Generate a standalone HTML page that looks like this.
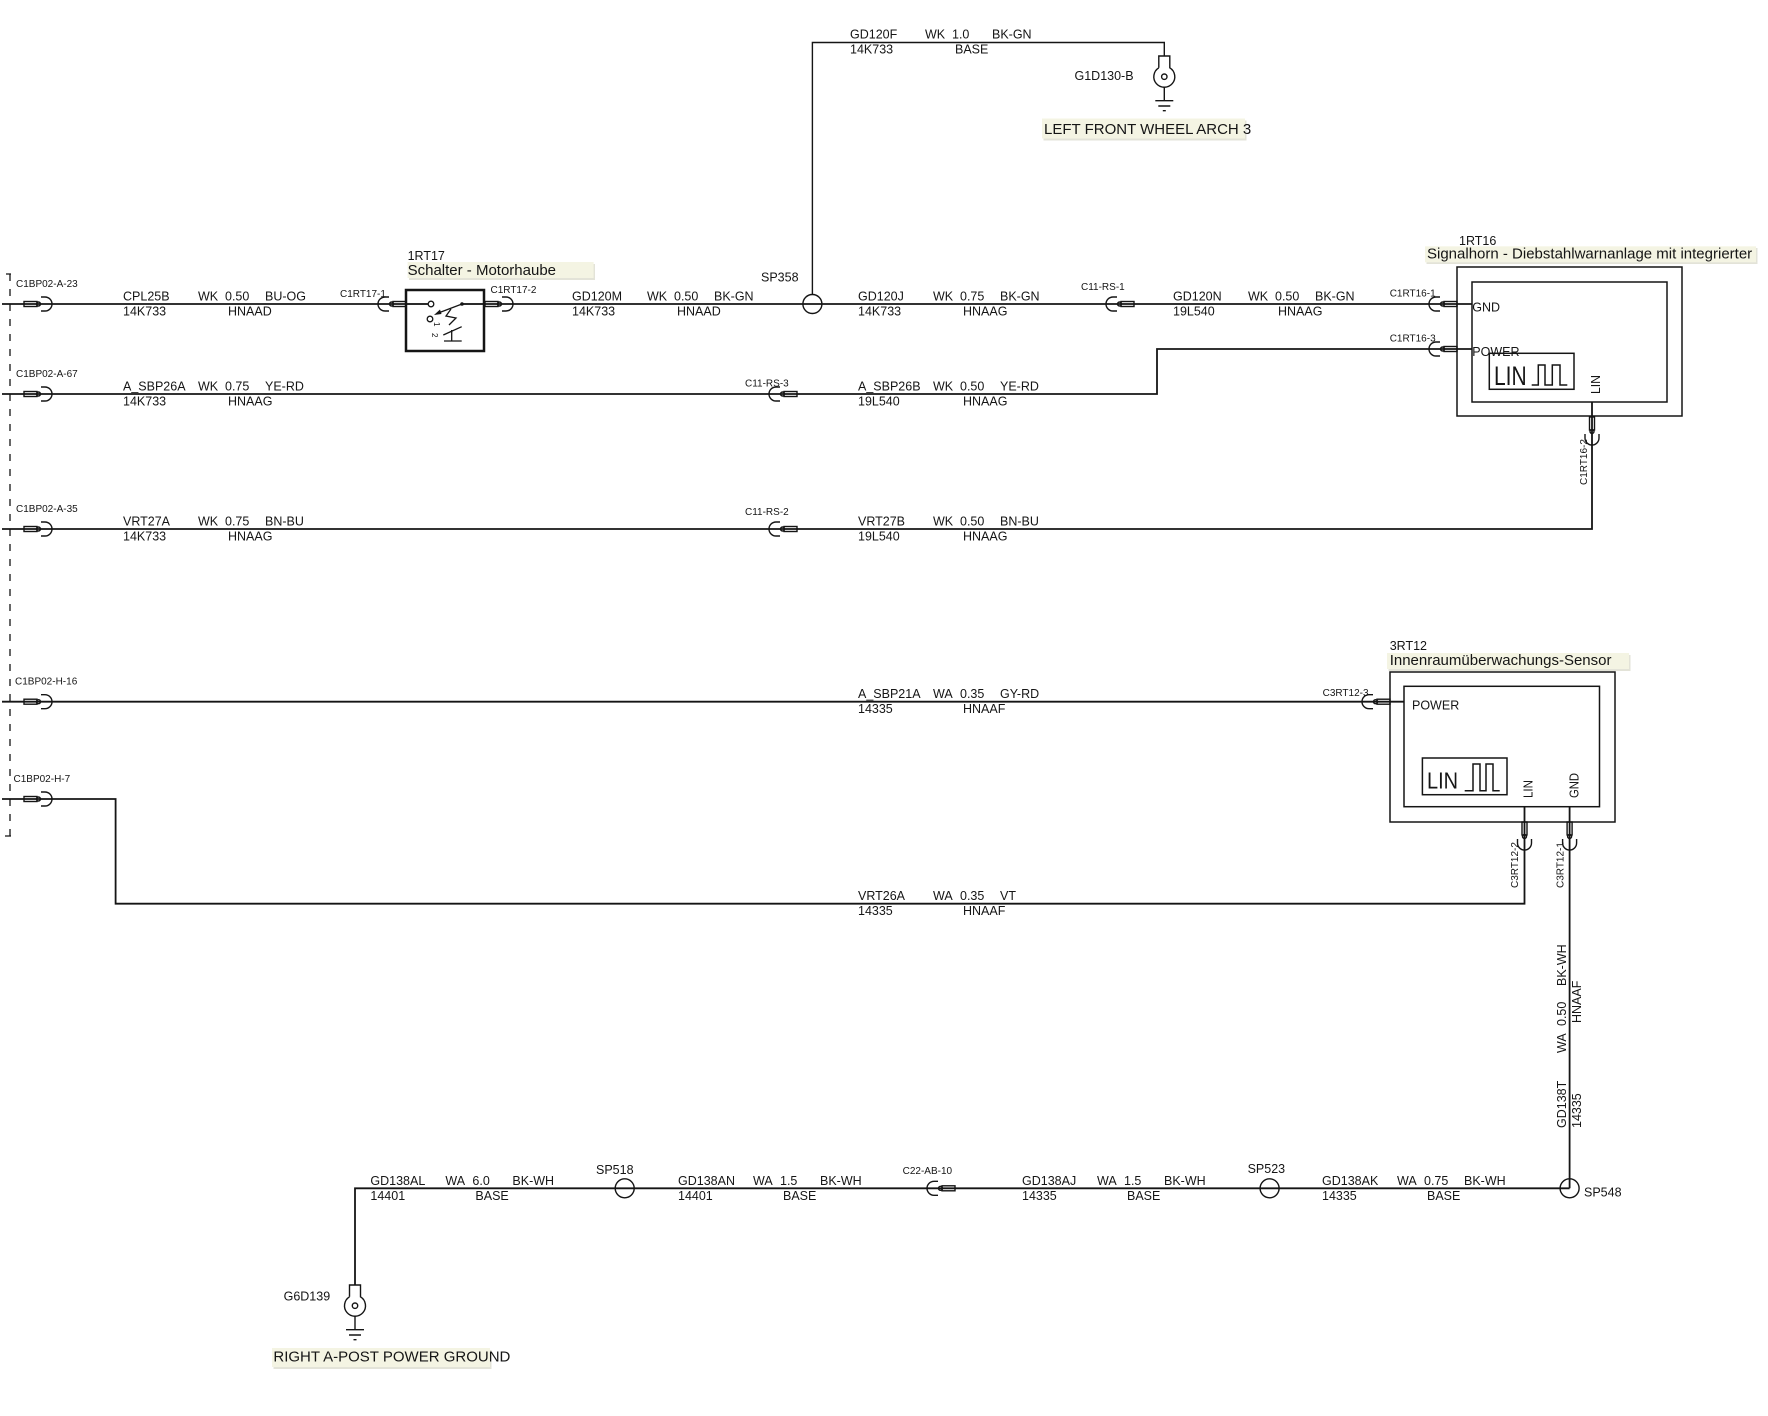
<!DOCTYPE html>
<html><head><meta charset="utf-8"><style>
html,body{margin:0;padding:0;background:#fff;}
svg{display:block;}
text{font-family:"Liberation Sans",Arial,sans-serif;fill:#151515;}
.w{font-size:12.5px;}
.s{font-size:10px;}
.t{font-size:15px;}
</style></head><body>
<svg width="1768" height="1416" viewBox="0 0 1768 1416" xmlns="http://www.w3.org/2000/svg">
<defs>
<g id="cn" fill="none" stroke="#151515" stroke-width="1.4">
<rect x="0" y="-2.5" width="13" height="5"/>
<circle cx="14.5" cy="0" r="2"/>
<path d="M17,-7 H21 A7,7 0 0 1 21,7 H17"/>
</g>
<g id="gnd" fill="none" stroke="#151515" stroke-width="1.4">
<path d="M-5.5,11.8 V0 H5.5 V11.8 A10.5,10.5 0 1 1 -5.5,11.8"/>
<circle cx="0" cy="20.7" r="2.7"/>
<path d="M0,31.2 V44.7 M-9,44.7 H9 M-6,50 H6 M-1.5,54.7 H1.5"/>
</g>
</defs>
<rect width="1768" height="1416" fill="#fff"/>

<!-- dashed harness line -->
<path d="M10,274 V836" stroke="#151515" stroke-width="1.3" stroke-dasharray="7 8" fill="none"/>
<path d="M6,274 H11 M5,836 H11" stroke="#151515" stroke-width="1.3"/>

<!-- wires -->
<g fill="none" stroke="#151515" stroke-width="1.8">
<path d="M2,304 H428"/>
<path d="M462,304 H1472"/>
<path d="M2,394 H1157 V349 H1472"/>
<path d="M2,529 H1592 V401.7"/>
<path d="M2,701.7 H1404"/>
<path d="M2,799 H115.6 V903.7 H1524.5 V806.7"/>
<path d="M1569.6,806.7 V1188.3"/>
<path d="M355,1285 V1188.3 H1569.6"/>
</g>
<path d="M812.4,294.5 V42.5 H1164.3 V56" fill="none" stroke="#151515" stroke-width="1.4"/>

<!-- splices -->
<g fill="none" stroke="#151515" stroke-width="1.4">
<circle cx="812.4" cy="304" r="9.5"/>
<circle cx="624.7" cy="1188.3" r="9.5"/>
<circle cx="1269.6" cy="1188.3" r="9.5"/>
<circle cx="1569.6" cy="1188.3" r="9.5"/>
</g>

<!-- grounds -->
<use href="#gnd" transform="translate(1164.3,56)"/>
<use href="#gnd" transform="translate(355,1285)"/>

<!-- connectors -->
<use href="#cn" transform="translate(24,304)"/>
<use href="#cn" transform="translate(24,394)"/>
<use href="#cn" transform="translate(24,529)"/>
<use href="#cn" transform="translate(24,701.7)"/>
<use href="#cn" transform="translate(24,799)"/>
<use href="#cn" transform="translate(406,304) scale(-1,1)"/>
<use href="#cn" transform="translate(485,304)"/>
<use href="#cn" transform="translate(797,394) scale(-1,1)"/>
<use href="#cn" transform="translate(1134,304) scale(-1,1)"/>
<use href="#cn" transform="translate(797,529) scale(-1,1)"/>
<use href="#cn" transform="translate(1457,304) scale(-1,1)"/>
<use href="#cn" transform="translate(1457,349) scale(-1,1)"/>
<use href="#cn" transform="translate(1390,701.7) scale(-1,1)"/>
<use href="#cn" transform="translate(955,1188.3) scale(-1,1)"/>
<use href="#cn" transform="translate(1592,417) rotate(90)"/>
<use href="#cn" transform="translate(1524.5,822) rotate(90)"/>
<use href="#cn" transform="translate(1569.6,822) rotate(90)"/>

<!-- switch 1RT17 -->
<rect x="406" y="290" width="78" height="61" fill="none" stroke="#151515" stroke-width="2.5"/>
<g fill="none" stroke="#151515" stroke-width="1.3">
<path d="M406,304 H428.2"/>
<circle cx="431" cy="304" r="2.8" fill="#fff"/>
<path d="M462,304 H484"/>
<path d="M462,304 L437,313.5"/>
<circle cx="430" cy="319" r="2.8"/>
<path d="M451,309 L446,316 L456,318 L449,325"/>
<path d="M443.3,335 L461.7,326.7"/>
<path d="M444,341 H461.7 M451.7,330 V341"/>
</g>
<circle cx="462" cy="304" r="1.8" fill="#151515"/>
<path d="M434,315 L440,309.5 L441.5,314 Z" fill="#151515"/>
<text x="0" y="0" font-size="8" transform="translate(434,322) rotate(90)">1</text>
<text x="0" y="0" font-size="8" transform="translate(432,333) rotate(90)">2</text>

<!-- 1RT16 -->
<g fill="none" stroke="#151515" stroke-width="1.5">
<rect x="1457" y="267" width="225" height="149"/>
<rect x="1472" y="282" width="195" height="120"/>
<rect x="1489.3" y="353.3" width="84.7" height="36"/>
<path d="M1531.7,385 H1538.3 V365 H1545 V385 H1552.3 V365 H1560 V385 H1567.3"/>
</g>
<text x="1494" y="385" font-size="27" textLength="32.7" lengthAdjust="spacingAndGlyphs">LIN</text>
<text class="w" x="1472.3" y="311.7">GND</text>
<text class="w" x="1472.3" y="356">POWER</text>
<text font-size="13" textLength="19" lengthAdjust="spacingAndGlyphs" transform="translate(1600,394) rotate(-90)">LIN</text>

<!-- 3RT12 -->
<g fill="none" stroke="#151515" stroke-width="1.5">
<rect x="1390" y="672" width="225" height="150"/>
<rect x="1404" y="686.3" width="195.5" height="120.4"/>
<rect x="1422.4" y="758" width="84.6" height="36.7"/>
<path d="M1464.7,790.7 H1473 V764 H1480 V790.7 H1486 V764 H1493 V790.7 H1499.7"/>
</g>
<text x="1427" y="788.3" font-size="23" textLength="31" lengthAdjust="spacingAndGlyphs">LIN</text>
<text class="w" x="1412" y="709.3">POWER</text>
<text font-size="13" textLength="18" lengthAdjust="spacingAndGlyphs" transform="translate(1532.7,798) rotate(-90)">LIN</text>
<text font-size="13" textLength="25" lengthAdjust="spacingAndGlyphs" transform="translate(1578.6,798) rotate(-90)">GND</text>

<!-- highlights -->
<rect x="409" y="264" width="186" height="16" fill="#e3e3d8"/>
<rect x="407.6" y="262" width="186" height="16" fill="#f4f4e3"/>
<rect x="1426.5" y="248" width="331" height="16" fill="#e3e3d8"/>
<rect x="1425" y="246.3" width="331" height="16" fill="#f4f4e3"/>
<rect x="1388.5" y="655" width="242" height="16" fill="#e3e3d8"/>
<rect x="1387" y="653" width="242" height="16" fill="#f4f4e3"/>
<rect x="1043.5" y="120.5" width="203" height="20" fill="#e3e3d8"/>
<rect x="1042" y="118.5" width="203" height="20" fill="#f4f4e3"/>
<rect x="273.5" y="1350" width="218" height="19" fill="#e3e3d8"/>
<rect x="272" y="1348" width="218" height="19" fill="#f4f4e3"/>

<!-- titles -->
<text class="w" x="407.6" y="260">1RT17</text>
<text class="t" x="407.6" y="275">Schalter - Motorhaube</text>
<text class="w" x="1459" y="245">1RT16</text>
<text class="t" x="1427" y="258.5">Signalhorn - Diebstahlwarnanlage mit integrierter</text>
<text class="w" x="1389.7" y="650">3RT12</text>
<text class="t" x="1389.7" y="665">Innenraumüberwachungs-Sensor</text>
<text class="t" x="1044" y="134">LEFT FRONT WHEEL ARCH 3</text>
<text class="t" x="273.4" y="1361.5">RIGHT A-POST POWER GROUND</text>
<text class="w" x="1074.5" y="80">G1D130-B</text>
<text class="w" x="283.6" y="1300.7">G6D139</text>

<!-- splice labels -->
<text class="w" x="761" y="281.7">SP358</text>
<text class="w" x="596" y="1174">SP518</text>
<text class="w" x="1247.6" y="1173">SP523</text>
<text class="w" x="1584" y="1196.7">SP548</text>

<!-- connector labels -->
<text class="s" x="16" y="287">C1BP02-A-23</text>
<text class="s" x="16" y="377">C1BP02-A-67</text>
<text class="s" x="16" y="512">C1BP02-A-35</text>
<text class="s" x="15" y="684.5">C1BP02-H-16</text>
<text class="s" x="13.5" y="782">C1BP02-H-7</text>
<text class="s" x="340" y="297">C1RT17-1</text>
<text class="s" x="490.5" y="293">C1RT17-2</text>
<text class="s" x="1081" y="290">C11-RS-1</text>
<text class="s" x="1389.7" y="296.7">C1RT16-1</text>
<text class="s" x="1389.7" y="341.7">C1RT16-3</text>
<text class="s" x="745" y="386.7">C11-RS-3</text>
<text class="s" x="745" y="515">C11-RS-2</text>
<text class="s" x="1322.6" y="696">C3RT12-3</text>
<text class="s" x="902.6" y="1174">C22-AB-10</text>
<text class="s" transform="translate(1587,485) rotate(-90)">C1RT16-2</text>
<text class="s" transform="translate(1518,888) rotate(-90)">C3RT12-2</text>
<text class="s" transform="translate(1563.5,888) rotate(-90)">C3RT12-1</text>

<!-- wire labels -->
<g class="w">
<text class="w" x="123" y="300.5">CPL25B</text><text class="w" x="198" y="300.5">WK</text><text class="w" x="225" y="300.5">0.50</text><text class="w" x="265" y="300.5">BU-OG</text>
<text class="w" x="123" y="315.5">14K733</text><text class="w" x="228" y="315.5">HNAAD</text>

<text class="w" x="572" y="300.5">GD120M</text><text class="w" x="647" y="300.5">WK</text><text class="w" x="674" y="300.5">0.50</text><text class="w" x="714" y="300.5">BK-GN</text>
<text class="w" x="572" y="315.5">14K733</text><text class="w" x="677" y="315.5">HNAAD</text>

<text class="w" x="858" y="300.5">GD120J</text><text class="w" x="933" y="300.5">WK</text><text class="w" x="960" y="300.5">0.75</text><text class="w" x="1000" y="300.5">BK-GN</text>
<text class="w" x="858" y="315.5">14K733</text><text class="w" x="963" y="315.5">HNAAG</text>

<text class="w" x="1173" y="300.5">GD120N</text><text class="w" x="1248" y="300.5">WK</text><text class="w" x="1275" y="300.5">0.50</text><text class="w" x="1315" y="300.5">BK-GN</text>
<text class="w" x="1173" y="315.5">19L540</text><text class="w" x="1278" y="315.5">HNAAG</text>

<text class="w" x="850" y="38.5">GD120F</text><text class="w" x="925" y="38.5">WK</text><text class="w" x="952" y="38.5">1.0</text><text class="w" x="992" y="38.5">BK-GN</text>
<text class="w" x="850" y="53.5">14K733</text><text class="w" x="955" y="53.5">BASE</text>

<text class="w" x="123" y="390.5">A_SBP26A</text><text class="w" x="198" y="390.5">WK</text><text class="w" x="225" y="390.5">0.75</text><text class="w" x="265" y="390.5">YE-RD</text>
<text class="w" x="123" y="405.5">14K733</text><text class="w" x="228" y="405.5">HNAAG</text>

<text class="w" x="858" y="390.5">A_SBP26B</text><text class="w" x="933" y="390.5">WK</text><text class="w" x="960" y="390.5">0.50</text><text class="w" x="1000" y="390.5">YE-RD</text>
<text class="w" x="858" y="405.5">19L540</text><text class="w" x="963" y="405.5">HNAAG</text>

<text class="w" x="123" y="525.5">VRT27A</text><text class="w" x="198" y="525.5">WK</text><text class="w" x="225" y="525.5">0.75</text><text class="w" x="265" y="525.5">BN-BU</text>
<text class="w" x="123" y="540.5">14K733</text><text class="w" x="228" y="540.5">HNAAG</text>

<text class="w" x="858" y="525.5">VRT27B</text><text class="w" x="933" y="525.5">WK</text><text class="w" x="960" y="525.5">0.50</text><text class="w" x="1000" y="525.5">BN-BU</text>
<text class="w" x="858" y="540.5">19L540</text><text class="w" x="963" y="540.5">HNAAG</text>

<text class="w" x="858" y="698.2">A_SBP21A</text><text class="w" x="933" y="698.2">WA</text><text class="w" x="960" y="698.2">0.35</text><text class="w" x="1000" y="698.2">GY-RD</text>
<text class="w" x="858" y="713.2">14335</text><text class="w" x="963" y="713.2">HNAAF</text>

<text class="w" x="858" y="900.2">VRT26A</text><text class="w" x="933" y="900.2">WA</text><text class="w" x="960" y="900.2">0.35</text><text class="w" x="1000" y="900.2">VT</text>
<text class="w" x="858" y="915.2">14335</text><text class="w" x="963" y="915.2">HNAAF</text>

<text class="w" x="370.4" y="1184.8">GD138AL</text><text class="w" x="445.4" y="1184.8">WA</text><text class="w" x="472.4" y="1184.8">6.0</text><text class="w" x="512.4" y="1184.8">BK-WH</text>
<text class="w" x="370.4" y="1199.8">14401</text><text class="w" x="475.4" y="1199.8">BASE</text>

<text class="w" x="678" y="1184.8">GD138AN</text><text class="w" x="753" y="1184.8">WA</text><text class="w" x="780" y="1184.8">1.5</text><text class="w" x="820" y="1184.8">BK-WH</text>
<text class="w" x="678" y="1199.8">14401</text><text class="w" x="783" y="1199.8">BASE</text>

<text class="w" x="1022" y="1184.8">GD138AJ</text><text class="w" x="1097" y="1184.8">WA</text><text class="w" x="1124" y="1184.8">1.5</text><text class="w" x="1164" y="1184.8">BK-WH</text>
<text class="w" x="1022" y="1199.8">14335</text><text class="w" x="1127" y="1199.8">BASE</text>

<text class="w" x="1322" y="1184.8">GD138AK</text><text class="w" x="1397" y="1184.8">WA</text><text class="w" x="1424" y="1184.8">0.75</text><text class="w" x="1464" y="1184.8">BK-WH</text>
<text class="w" x="1322" y="1199.8">14335</text><text class="w" x="1427" y="1199.8">BASE</text>
</g>

<g transform="translate(1569.6,1128) rotate(-90)">
<text class="w" x="0" y="-3.5">GD138T</text><text class="w" x="75" y="-3.5">WA</text><text class="w" x="102" y="-3.5">0.50</text><text class="w" x="142" y="-3.5">BK-WH</text>
<text class="w" x="0" y="11.5">14335</text><text class="w" x="105" y="11.5">HNAAF</text>
</g>
</svg>
</body></html>
